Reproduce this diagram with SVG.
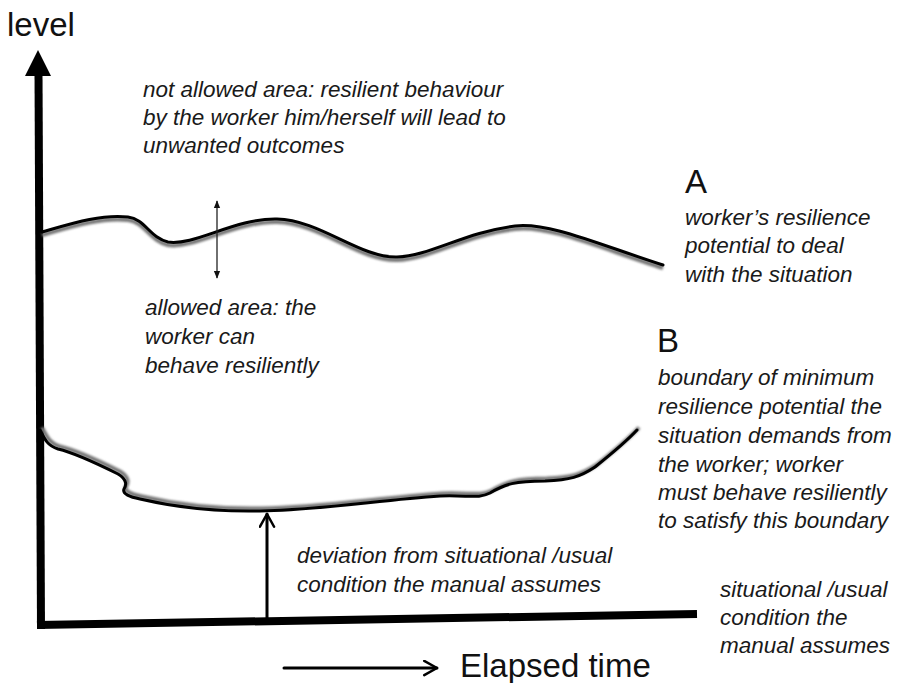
<svg xmlns="http://www.w3.org/2000/svg" width="901" height="683" viewBox="0 0 901 683">
<style>
.lbl{font-family:"Liberation Sans",Arial,sans-serif;font-style:italic;font-size:22.5px;fill:#1a1a1a}
.big{font-family:"Liberation Sans",Arial,sans-serif;font-size:33px;fill:#111}
.curve{fill:none;stroke:#000;stroke-width:3;stroke-linecap:round}
.shadow{fill:none;stroke:#777;stroke-width:4;filter:url(#blur)}
.axis{fill:none;stroke:#000;stroke-width:8}
.thin{fill:none;stroke:#222;stroke-width:1.3}
.arr{fill:none;stroke:#000;stroke-width:3;stroke-linecap:round;stroke-linejoin:round}
</style>
<defs>
<filter id="blur" x="-5%" y="-50%" width="110%" height="200%"><feGaussianBlur stdDeviation="1.3"/></filter>
<marker id="tri" viewBox="0 0 10 10" refX="9" refY="5" markerWidth="8" markerHeight="8" markerUnits="userSpaceOnUse" orient="auto-start-reverse"><path d="M0,1 L10,5 L0,9 z" fill="#111"/></marker>
<marker id="chev" viewBox="0 0 12 12" refX="11" refY="6" markerWidth="17" markerHeight="17" markerUnits="userSpaceOnUse" orient="auto"><path d="M2,1 L11,6 L2,11" fill="none" stroke="#000" stroke-width="1.8" stroke-linecap="round" stroke-linejoin="round"/></marker>
</defs>
<rect width="901" height="683" fill="#fff"/>

<g id="axes">
<line class="axis" x1="38.5" y1="72" x2="41" y2="629"/>
<polygon points="38,50 25,76 51,76" fill="#000"/>
<line class="axis" x1="37" y1="625" x2="697" y2="614"/>
</g>

<g id="curveA">
<path class="shadow" transform="translate(0,3)" d="M42,232 C70,224 100,214 128,217 C145,219 150,238 168,242 C195,246 235,218 277,219 C320,220 360,258 397,257 C430,256 465,232 515,226 C550,222 600,245 663,265"/>
<path class="curve" d="M42,232 C70,224 100,214 128,217 C145,219 150,238 168,242 C195,246 235,218 277,219 C320,220 360,258 397,257 C430,256 465,232 515,226 C550,222 600,245 663,265"/>
</g>

<g id="curveB">
<path class="shadow" transform="translate(2,-2.5)" d="M40,430 C45,440 48,446 58,449 C75,453 100,465 118,474 C128,480 126,486 124,489 C122,494 130,497 140,499 C170,506 210,512 260,511 C320,510 380,500 440,496 C470,495 478,499 490,493 C505,484 515,481 545,481 C570,480 580,477 595,467 C610,455 625,443 637,430"/>
<path class="curve" d="M40,430 C45,440 48,446 58,449 C75,453 100,465 118,474 C128,480 126,486 124,489 C122,494 130,497 140,499 C170,506 210,512 260,511 C320,510 380,500 440,496 C470,495 478,499 490,493 C505,484 515,481 545,481 C570,480 580,477 595,467 C610,455 625,443 637,430"/>
</g>

<g id="connectors">
<line class="thin" x1="217" y1="201" x2="217" y2="278" marker-start="url(#tri)" marker-end="url(#tri)"/>
<line class="arr" x1="267" y1="622" x2="267" y2="514" marker-end="url(#chev)"/>
<line class="arr" x1="284" y1="668" x2="437" y2="668" marker-end="url(#chev)"/>
</g>

<g id="level-label"><text class="big" x="7" y="36">level</text></g>
<g id="time-label"><text class="big" x="460" y="677">Elapsed time</text></g>

<g id="not-allowed">
<text class="lbl" x="143" y="97">not allowed area: resilient behaviour</text>
<text class="lbl" x="143" y="125">by the worker him/herself will lead to</text>
<text class="lbl" x="143" y="153">unwanted outcomes</text>
</g>

<g id="allowed">
<text class="lbl" x="145" y="315">allowed area: the</text>
<text class="lbl" x="145" y="344">worker can</text>
<text class="lbl" x="145" y="373">behave resiliently</text>
</g>

<g id="labelA">
<text class="big" x="685" y="193">A</text>
<text class="lbl" x="685" y="225">worker’s resilience</text>
<text class="lbl" x="685" y="253">potential to deal</text>
<text class="lbl" x="685" y="282">with the situation</text>
</g>

<g id="labelB">
<text class="big" x="657" y="352">B</text>
<text class="lbl" x="658" y="385">boundary of minimum</text>
<text class="lbl" x="658" y="414">resilience potential the</text>
<text class="lbl" x="658" y="443">situation demands from</text>
<text class="lbl" x="658" y="472">the worker; worker</text>
<text class="lbl" x="658" y="500">must behave resiliently</text>
<text class="lbl" x="658" y="528">to satisfy this boundary</text>
</g>

<g id="deviation">
<text class="lbl" x="297" y="563">deviation from situational /usual</text>
<text class="lbl" x="297" y="592">condition the manual assumes</text>
</g>

<g id="usual">
<text class="lbl" x="720" y="597">situational /usual</text>
<text class="lbl" x="720" y="625">condition the</text>
<text class="lbl" x="720" y="653">manual assumes</text>
</g>
</svg>
